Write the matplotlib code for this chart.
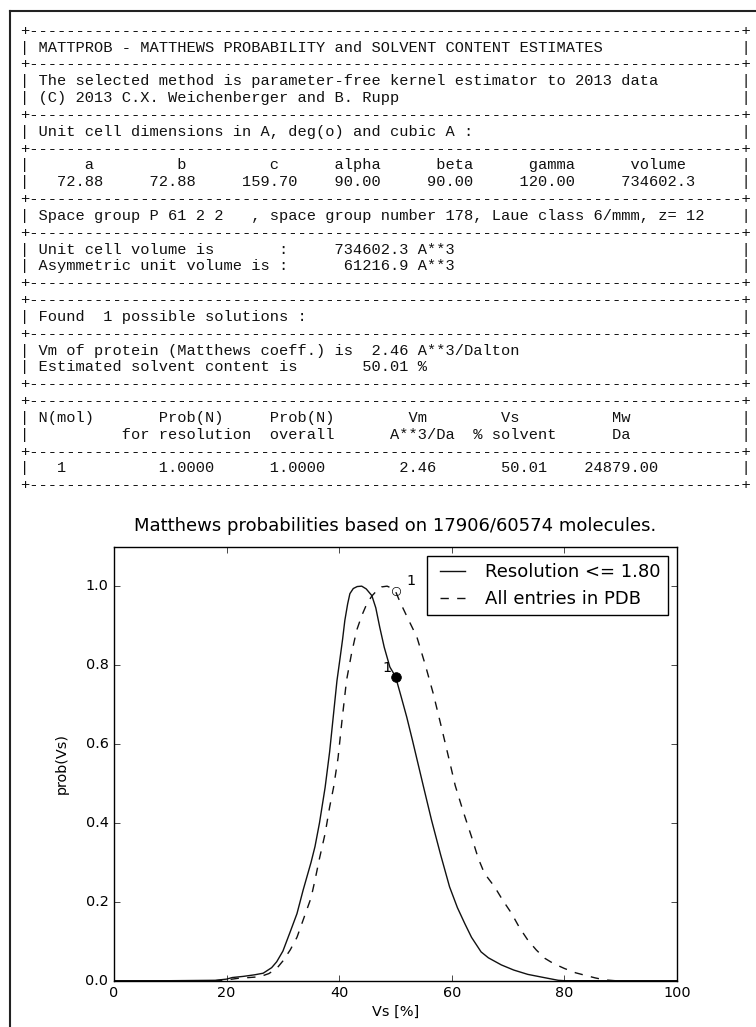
import matplotlib
matplotlib.use("Agg")
import matplotlib.pyplot as plt
from matplotlib.lines import Line2D

# --- values ---------------------------------------------------------------
cell_labels = ["a", "b", "c", "alpha", "beta", "gamma", "volume"]
cell_values = ["72.88", "72.88", "159.70", "90.00", "90.00", "120.00", "734602.3"]
sol_table = ["1", "1.0000", "1.0000", "2.46", "50.01", "24879.00"]

# solvent content curve, resolution <= 1.80
vs_res = [0, 10, 18, 20, 21, 23, 25, 26.5, 28, 28.9, 30, 31.3, 32.5, 33.6, 35,
          35.7, 36.5, 37.5, 38.3, 39, 39.6, 40.1, 40.6, 41, 41.5, 41.9, 42.5,
          43.2, 44, 44.8, 45.8, 46.5, 47.2, 48, 49, 50, 51, 52, 53, 54, 55,
          56.4, 58, 59.6, 61, 62.3, 63.5, 65.2, 66.5, 68.8, 71, 73.5, 76,
          78.9, 80, 90, 100]
p_res = [0, 0, 0.001, 0.004, 0.008, 0.011, 0.015, 0.019, 0.033, 0.048, 0.075,
         0.124, 0.17, 0.23, 0.30, 0.34, 0.40, 0.49, 0.58, 0.677, 0.76, 0.812,
         0.865, 0.913, 0.955, 0.981, 0.994, 0.999, 1.0, 0.993, 0.976, 0.945,
         0.896, 0.845, 0.795, 0.771, 0.72, 0.668, 0.61, 0.55, 0.49, 0.407,
         0.32, 0.238, 0.185, 0.145, 0.11, 0.073, 0.058, 0.040, 0.027, 0.016,
         0.009, 0.001, 0, 0, 0]

# all entries in the PDB
vs_all = [0, 10, 18, 20, 22, 24, 25.9, 27.5, 28.9, 30, 31.3, 32.5, 33.6, 35,
          35.7, 36.5, 37.5, 38.3, 39, 39.8, 40.5, 41.3, 42.2, 43.1, 44, 44.9,
          45.8, 46.7, 47.5, 48.5, 49.3, 50, 50.8, 52.3, 53.8, 55.3, 56.7,
          58.2, 59.7, 60.6, 62, 63.5, 64.7, 65.8, 67.6, 69, 70.6, 72, 73.5,
          75, 76.5, 78, 80, 82, 83.6, 85.5, 87.2, 89, 100]
p_all = [0, 0, 0, 0.002, 0.006, 0.008, 0.010, 0.018, 0.031, 0.05, 0.078, 0.11,
         0.154, 0.21, 0.255, 0.31, 0.373, 0.44, 0.49, 0.565, 0.66, 0.761, 0.83,
         0.888, 0.925, 0.955, 0.975, 0.989, 0.998, 1.0, 0.995, 0.987, 0.96,
         0.915, 0.871, 0.80, 0.728, 0.64, 0.55, 0.495, 0.43, 0.365, 0.31,
         0.272, 0.238, 0.205, 0.171, 0.135, 0.103, 0.078, 0.057, 0.044, 0.031,
         0.02, 0.014, 0.007, 0.002, 0, 0]

sol_vs = 50.01
sol_p_res = 0.771
sol_p_all = 0.987

# --- text report (column, text) per row, None = separator rule ------------
NCOL = 79
report = [
    None,
    [(2, "MATTPROB - MATTHEWS PROBABILITY and SOLVENT CONTENT ESTIMATES")],
    None,
    [(2, "The selected method is parameter-free kernel estimator to 2013 data")],
    [(2, "(C) 2013 C.X. Weichenberger and B. Rupp")],
    None,
    [(2, "Unit cell dimensions in A, deg(o) and cubic A :")],
    None,
    list(zip([7, 17, 27, 34, 45, 55, 66], cell_labels)),
    list(zip([4, 14, 24, 34, 44, 54, 65], cell_values)),
    None,
    [(2, "Space group P 61 2 2   , space group number 178, Laue class 6/mmm, z= 12")],
    None,
    [(2, "Unit cell volume is"), (28, ":"), (34, "734602.3 A**3")],
    [(2, "Asymmetric unit volume is :"), (35, "61216.9 A**3")],
    None,
    None,
    [(2, "Found  1 possible solutions :")],
    None,
    [(2, "Vm of protein (Matthews coeff.) is  2.46 A**3/Dalton")],
    [(2, "Estimated solvent content is"), (37, "50.01 %")],
    None,
    None,
    [(2, "N(mol)"), (15, "Prob(N)"), (27, "Prob(N)"), (42, "Vm"), (52, "Vs"), (64, "Mw")],
    [(11, "for resolution"), (27, "overall"), (40, "A**3/Da"), (49, "% solvent"), (64, "Da")],
    None,
    list(zip([4, 15, 27, 41, 52, 61], sol_table)),
    None,
]


def make_line(tokens):
    if tokens is None:
        return "+" + "-" * (NCOL - 2) + "+"
    chars = [" "] * NCOL
    chars[0] = "|"
    chars[-1] = "|"
    for col, txt in tokens:
        chars[col:col + len(txt)] = list(txt)
    return "".join(chars)


W, H = 756, 1027
plt.style.use("classic")
plt.rcParams["font.size"] = 10.4

fig = plt.figure(figsize=(W / 100, H / 100), dpi=100, facecolor="white")

# outer frame (left and top edges visible)
fig.add_artist(Line2D([10 / W, 10 / W], [0, 1 - 11 / H], transform=fig.transFigure,
                      color="#222222", lw=1.5))
fig.add_artist(Line2D([10 / W, 1], [1 - 11 / H, 1 - 11 / H], transform=fig.transFigure,
                      color="#222222", lw=1.5))

for i, tokens in enumerate(report):
    y = 34.8 + 16.83 * i
    fig.text(20.4 / W, 1 - y / H, make_line(tokens), family="Liberation Mono",
             size=11.04, ha="left", va="baseline", color="#111111")

# --- probability plot -----------------------------------------------------
ax = fig.add_axes([114 / W, (H - 980.7) / H, 563 / W, 434 / H])
ax.plot(vs_res, p_res, "-", color="#111111", lw=1.0, label="Resolution <= 1.80")
ax.plot(vs_all, p_all, "--", color="#111111", lw=1.0, label="All entries in PDB")
ax.plot([sol_vs], [sol_p_res], "o", color="k", ms=7)
ax.plot([sol_vs], [sol_p_all], "o", mfc="none", mec="k", ms=6)
ax.annotate("1", (sol_vs, sol_p_res), xytext=(-9, 9), textcoords="offset pixels",
            ha="center", va="center")
ax.annotate("1", (sol_vs, sol_p_all), xytext=(15, 10), textcoords="offset pixels",
            ha="center", va="center")

ax.set_xlim(0, 100)
ax.set_ylim(0, 1.1)
ax.set_xticks([0, 20, 40, 60, 80, 100])
ax.set_yticks([0.0, 0.2, 0.4, 0.6, 0.8, 1.0])
ax.set_xlabel("Vs [%]", labelpad=3)
ax.set_ylabel("prob(Vs)", labelpad=12)
ax.set_title("Matthews probabilities based on 17906/60574 molecules.",
             fontsize=13, pad=11)
ax.legend(loc="upper right", fontsize=13)

fig.savefig("out.png", dpi=100, facecolor="white")
